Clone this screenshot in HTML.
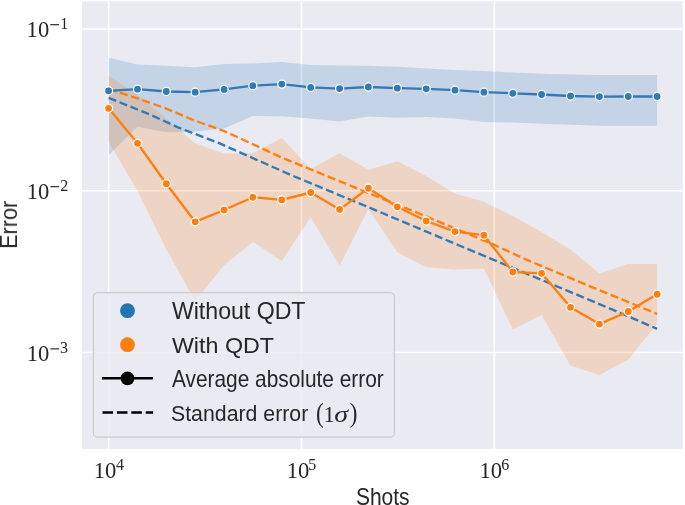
<!DOCTYPE html>
<html><head><meta charset="utf-8"><style>
html,body{margin:0;padding:0;background:#fff;width:685px;height:505px;overflow:hidden}
svg{display:block;will-change:transform}
</style></head><body>
<svg width="685" height="505" viewBox="0 0 685 505">
<rect x="82.0" y="1.4" width="600.8" height="447.6" fill="#eaeaf2"/>
<line x1="108.6" y1="1.4" x2="108.6" y2="449.0" stroke="#fff" stroke-width="1.6"/>
<line x1="301.5" y1="1.4" x2="301.5" y2="449.0" stroke="#fff" stroke-width="1.6"/>
<line x1="494.3" y1="1.4" x2="494.3" y2="449.0" stroke="#fff" stroke-width="1.6"/>
<line x1="82.0" y1="29.0" x2="682.8" y2="29.0" stroke="#fff" stroke-width="1.6"/>
<line x1="82.0" y1="190.7" x2="682.8" y2="190.7" stroke="#fff" stroke-width="1.6"/>
<line x1="82.0" y1="352.5" x2="682.8" y2="352.5" stroke="#fff" stroke-width="1.6"/>
<polygon points="108.6,57.8 137.5,64.5 166.3,65.7 195.2,67.2 224.1,64.0 252.9,63.5 281.8,62.1 310.7,64.9 339.6,65.6 368.4,65.7 397.3,66.8 426.2,68.4 455.0,69.9 483.9,71.1 512.8,72.6 541.6,73.8 570.5,74.6 599.4,75.1 628.3,74.9 657.1,74.9 657.1,125.7 628.3,125.7 599.4,125.8 570.5,124.8 541.6,123.8 512.8,122.6 483.9,121.9 455.0,118.4 426.2,117.1 397.3,117.8 368.4,116.6 339.6,121.6 310.7,118.5 281.8,116.2 252.9,116.1 224.1,128.4 195.2,131.4 166.3,132.3 137.5,126.8 108.6,155.3" fill="#327ab7" fill-opacity="0.2"/>
<polygon points="108.6,75.5 137.5,95.0 166.3,118.5 195.2,143.3 224.1,153.8 252.9,153.3 281.8,138.0 310.7,169.0 339.6,153.2 368.4,169.7 397.3,161.3 426.2,176.1 455.0,193.4 483.9,201.7 512.8,216.0 541.6,232.0 570.5,249.5 599.4,273.5 628.3,264.0 657.1,264.0 657.1,323.8 628.3,359.4 599.4,374.9 570.5,365.4 541.6,314.9 512.8,329.5 483.9,268.5 455.0,269.6 426.2,267.3 397.3,252.3 368.4,209.0 339.6,265.6 310.7,217.3 281.8,260.9 252.9,241.9 224.1,265.2 195.2,301.0 166.3,249.3 137.5,191.0 108.6,141.6" fill="#ff7f0e" fill-opacity="0.2"/>
<polyline points="108.6,97.8 150.0,114.6 180.0,128.2 219.2,143.2 290.0,174.6 371.8,208.6 450.0,241.6 612.0,309.4 657.1,328.8" fill="none" stroke="#327ab7" stroke-width="2.35" stroke-dasharray="8.2,3.6"/>
<polyline points="108.6,89.2 137.5,98.3 166.3,108.6 195.2,120.8 224.1,131.0 252.9,144.2 281.8,157.6 330.0,177.3 368.4,193.0 404.6,207.5 490.0,243.0 525.0,259.0 590.0,286.3 657.1,313.9" fill="none" stroke="#ff7f0e" stroke-width="2.35" stroke-dasharray="8.2,3.6"/>
<polyline points="108.6,90.8 137.5,89.2 166.3,91.5 195.2,92.2 224.1,89.4 252.9,85.7 281.8,84.1 310.7,87.4 339.6,88.6 368.4,87.0 397.3,88.2 426.2,88.8 455.0,90.2 483.9,92.2 512.8,93.3 541.6,94.5 570.5,96.0 599.4,96.6 628.3,96.5 657.1,96.5" fill="none" stroke="#327ab7" stroke-width="2.35" stroke-linejoin="round" stroke-linecap="round"/>
<circle cx="108.6" cy="90.8" r="4.05" fill="#327ab7" stroke="#fff" stroke-width="1.25"/>
<circle cx="137.5" cy="89.2" r="4.05" fill="#327ab7" stroke="#fff" stroke-width="1.25"/>
<circle cx="166.3" cy="91.5" r="4.05" fill="#327ab7" stroke="#fff" stroke-width="1.25"/>
<circle cx="195.2" cy="92.2" r="4.05" fill="#327ab7" stroke="#fff" stroke-width="1.25"/>
<circle cx="224.1" cy="89.4" r="4.05" fill="#327ab7" stroke="#fff" stroke-width="1.25"/>
<circle cx="252.9" cy="85.7" r="4.05" fill="#327ab7" stroke="#fff" stroke-width="1.25"/>
<circle cx="281.8" cy="84.1" r="4.05" fill="#327ab7" stroke="#fff" stroke-width="1.25"/>
<circle cx="310.7" cy="87.4" r="4.05" fill="#327ab7" stroke="#fff" stroke-width="1.25"/>
<circle cx="339.6" cy="88.6" r="4.05" fill="#327ab7" stroke="#fff" stroke-width="1.25"/>
<circle cx="368.4" cy="87.0" r="4.05" fill="#327ab7" stroke="#fff" stroke-width="1.25"/>
<circle cx="397.3" cy="88.2" r="4.05" fill="#327ab7" stroke="#fff" stroke-width="1.25"/>
<circle cx="426.2" cy="88.8" r="4.05" fill="#327ab7" stroke="#fff" stroke-width="1.25"/>
<circle cx="455.0" cy="90.2" r="4.05" fill="#327ab7" stroke="#fff" stroke-width="1.25"/>
<circle cx="483.9" cy="92.2" r="4.05" fill="#327ab7" stroke="#fff" stroke-width="1.25"/>
<circle cx="512.8" cy="93.3" r="4.05" fill="#327ab7" stroke="#fff" stroke-width="1.25"/>
<circle cx="541.6" cy="94.5" r="4.05" fill="#327ab7" stroke="#fff" stroke-width="1.25"/>
<circle cx="570.5" cy="96.0" r="4.05" fill="#327ab7" stroke="#fff" stroke-width="1.25"/>
<circle cx="599.4" cy="96.6" r="4.05" fill="#327ab7" stroke="#fff" stroke-width="1.25"/>
<circle cx="628.3" cy="96.5" r="4.05" fill="#327ab7" stroke="#fff" stroke-width="1.25"/>
<circle cx="657.1" cy="96.5" r="4.05" fill="#327ab7" stroke="#fff" stroke-width="1.25"/>
<polyline points="108.6,108.3 137.5,143.3 166.3,183.7 195.2,221.8 224.1,210.0 252.9,197.2 281.8,199.9 310.7,192.5 339.6,209.4 368.4,188.2 397.3,206.8 426.2,221.0 455.0,231.6 483.9,235.2 512.8,272.0 541.6,273.3 570.5,307.3 599.4,324.1 628.3,311.5 657.1,294.2" fill="none" stroke="#ff7f0e" stroke-width="2.35" stroke-linejoin="round" stroke-linecap="round"/>
<circle cx="108.6" cy="108.3" r="4.05" fill="#ff7f0e" stroke="#fff" stroke-width="1.25"/>
<circle cx="137.5" cy="143.3" r="4.05" fill="#ff7f0e" stroke="#fff" stroke-width="1.25"/>
<circle cx="166.3" cy="183.7" r="4.05" fill="#ff7f0e" stroke="#fff" stroke-width="1.25"/>
<circle cx="195.2" cy="221.8" r="4.05" fill="#ff7f0e" stroke="#fff" stroke-width="1.25"/>
<circle cx="224.1" cy="210.0" r="4.05" fill="#ff7f0e" stroke="#fff" stroke-width="1.25"/>
<circle cx="252.9" cy="197.2" r="4.05" fill="#ff7f0e" stroke="#fff" stroke-width="1.25"/>
<circle cx="281.8" cy="199.9" r="4.05" fill="#ff7f0e" stroke="#fff" stroke-width="1.25"/>
<circle cx="310.7" cy="192.5" r="4.05" fill="#ff7f0e" stroke="#fff" stroke-width="1.25"/>
<circle cx="339.6" cy="209.4" r="4.05" fill="#ff7f0e" stroke="#fff" stroke-width="1.25"/>
<circle cx="368.4" cy="188.2" r="4.05" fill="#ff7f0e" stroke="#fff" stroke-width="1.25"/>
<circle cx="397.3" cy="206.8" r="4.05" fill="#ff7f0e" stroke="#fff" stroke-width="1.25"/>
<circle cx="426.2" cy="221.0" r="4.05" fill="#ff7f0e" stroke="#fff" stroke-width="1.25"/>
<circle cx="455.0" cy="231.6" r="4.05" fill="#ff7f0e" stroke="#fff" stroke-width="1.25"/>
<circle cx="483.9" cy="235.2" r="4.05" fill="#ff7f0e" stroke="#fff" stroke-width="1.25"/>
<circle cx="512.8" cy="272.0" r="4.05" fill="#ff7f0e" stroke="#fff" stroke-width="1.25"/>
<circle cx="541.6" cy="273.3" r="4.05" fill="#ff7f0e" stroke="#fff" stroke-width="1.25"/>
<circle cx="570.5" cy="307.3" r="4.05" fill="#ff7f0e" stroke="#fff" stroke-width="1.25"/>
<circle cx="599.4" cy="324.1" r="4.05" fill="#ff7f0e" stroke="#fff" stroke-width="1.25"/>
<circle cx="628.3" cy="311.5" r="4.05" fill="#ff7f0e" stroke="#fff" stroke-width="1.25"/>
<circle cx="657.1" cy="294.2" r="4.05" fill="#ff7f0e" stroke="#fff" stroke-width="1.25"/>
<rect x="93.4" y="292.6" width="301.0" height="144.6" rx="4.5" ry="4.5" fill="#eaeaf2" fill-opacity="0.8" stroke="#cccccc" stroke-width="1.25"/>
<circle cx="127.5" cy="310.7" r="7.4" fill="#1f77b4"/>
<circle cx="127.5" cy="344.7" r="7.4" fill="#ff7f0e"/>
<line x1="102" y1="378.3" x2="153" y2="378.3" stroke="#000" stroke-width="2.5"/>
<circle cx="127.5" cy="378.3" r="6.9" fill="#000"/>
<line x1="102.5" y1="412.6" x2="153" y2="412.6" stroke="#000" stroke-width="2.5" stroke-dasharray="10.6,3.8"/>
<text x="0" y="0" transform="translate(171.90,319.00) scale(1.0060,1)" font-family="Liberation Sans, sans-serif" font-size="23" fill="#262626">Without QDT</text>
<text x="0" y="0" transform="translate(171.90,353.00) scale(1.0130,1)" font-family="Liberation Sans, sans-serif" font-size="23" fill="#262626">With QDT</text>
<text x="0" y="0" transform="translate(171.91,387.00) scale(0.9078,1)" font-family="Liberation Sans, sans-serif" font-size="23" fill="#262626">Average absolute error</text>
<text x="0" y="0" transform="translate(170.98,421.40) scale(0.9264,1)" font-family="Liberation Sans, sans-serif" font-size="23" fill="#262626">Standard error</text>
<text x="0" y="0" transform="translate(316.06,422.41) scale(0.8594,1)" font-family="Liberation Serif, serif" font-size="26.92" fill="#262626">(</text>
<text x="0" y="0" transform="translate(323.57,421.70) scale(0.9673,1)" font-family="Liberation Serif, serif" font-size="23.33" fill="#262626">1</text>
<text x="0" y="0" transform="translate(334.26,421.68) scale(1.2618,1)" font-family="Liberation Serif, serif" font-style="italic" font-size="22.10" fill="#262626">σ</text>
<text x="0" y="0" transform="translate(349.81,422.48) scale(0.8477,1)" font-family="Liberation Serif, serif" font-size="27.22" fill="#262626">)</text>
<text x="0" y="0" transform="translate(355.89,504.60) scale(0.9139,1)" font-family="Liberation Sans, sans-serif" font-size="23" fill="#262626">Shots</text>
<text x="0" y="0" transform="translate(17,247) rotate(-90) scale(0.9387,1) translate(-1.90,0)" font-family="Liberation Sans, sans-serif" font-size="23" fill="#262626">Error</text>
<text x="26.60" y="37.00" font-family="Liberation Serif, serif" font-size="22.6" fill="#262626">10</text><rect x="50.20" y="24.10" width="8.8" height="1.15" fill="#262626"/><text x="60.20" y="28.80" font-family="Liberation Serif, serif" font-size="16.0" fill="#262626">1</text>
<text x="26.80" y="199.00" font-family="Liberation Serif, serif" font-size="22.6" fill="#262626">10</text><rect x="50.40" y="186.10" width="8.8" height="1.15" fill="#262626"/><text x="60.20" y="190.80" font-family="Liberation Serif, serif" font-size="16.0" fill="#262626">2</text>
<text x="26.80" y="361.20" font-family="Liberation Serif, serif" font-size="22.6" fill="#262626">10</text><rect x="50.40" y="348.30" width="8.8" height="1.15" fill="#262626"/><text x="60.10" y="353.00" font-family="Liberation Serif, serif" font-size="16.0" fill="#262626">3</text>
<text x="93.80" y="478.10" font-family="Liberation Serif, serif" font-size="22.6" fill="#262626">10</text><text x="115.90" y="469.90" font-family="Liberation Serif, serif" font-size="16.0" fill="#262626">4</text>
<text x="286.70" y="478.10" font-family="Liberation Serif, serif" font-size="22.6" fill="#262626">10</text><text x="308.20" y="469.90" font-family="Liberation Serif, serif" font-size="16.0" fill="#262626">5</text>
<text x="479.50" y="478.10" font-family="Liberation Serif, serif" font-size="22.6" fill="#262626">10</text><text x="501.20" y="469.90" font-family="Liberation Serif, serif" font-size="16.0" fill="#262626">6</text>
</svg>
</body></html>
